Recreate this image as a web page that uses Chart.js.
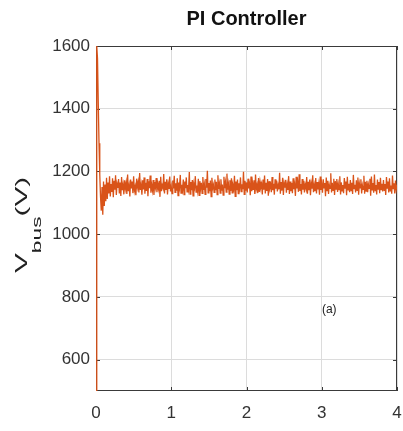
<!DOCTYPE html>
<html><head><meta charset="utf-8">
<script src="https://cdn.jsdelivr.net/npm/chart.js@4/dist/chart.umd.min.js"></script>
<style>html,body{margin:0;padding:0;background:#fff}#wrap{width:403px;height:431px}</style>
</head><body><div id="wrap"><canvas id="c" width="403" height="431"></canvas></div>
<script>
const titleText = "PI Controller";
const yLabelMain = "V", yLabelSub = "bus", yLabelTail = "(V)";
const annotationText = "(a)";
const annotationPos = [3.1, 760];
const dt = 0.01;
const xTicks = [0, 1, 2, 3, 4];
const yTicks = [600, 800, 1000, 1200, 1400, 1600];
const vbus = [
500,1600,1560,1420,1290,1190,1120,1075,1150,1062,1168,1090,1158,1105,1180,1112,1165,1130,1185,1120,
1160,1135,1178,1118,1170,1142,1188,1125,1160,1148,1176,1130,1165,1122,1182,1140,1158,1127,1172,1145,
1163,1128,1190,1137,1155,1120,1174,1146,1168,1131,1185,1139,1152,1124,1177,1150,1166,1133,1195,1141,
1158,1126,1172,1143,1181,1129,1164,1138,1176,1121,1169,1147,1187,1132,1157,1140,1173,1125,1166,1149,
1179,1134,1161,1145,1170,1119,1183,1137,1156,1148,1192,1130,1167,1141,1175,1127,1160,1144,1184,1136,
1153,1129,1171,1146,1186,1133,1162,1139,1178,1123,1165,1150,1189,1131,1158,1142,1174,1126,1168,1147,
1181,1135,1157,1143,1198,1128,1166,1140,1173,1122,1160,1149,1185,1134,1155,1138,1177,1124,1169,1145,
1164,1130,1182,1141,1159,1127,1176,1148,1202,1132,1163,1137,1171,1120,1180,1146,1157,1133,1174,1140,
1167,1126,1188,1144,1161,1131,1175,1139,1158,1125,1183,1147,1166,1134,1193,1142,1160,1128,1172,1138,
1178,1132,1156,1145,1186,1121,1168,1140,1174,1129,1162,1148,1181,1136,1159,1143,1199,1127,1170,1139,
1165,1133,1177,1146,1158,1124,1184,1137,1163,1141,1172,1128,1190,1144,1157,1131,1179,1135,1167,1149,
1160,1127,1174,1142,1187,1130,1164,1138,1176,1123,1169,1147,1158,1134,1182,1140,1161,1126,1175,1145,
1171,1136,1156,1143,1196,1129,1166,1139,1180,1125,1162,1148,1173,1132,1159,1141,1185,1128,1168,1137,
1163,1131,1178,1144,1157,1122,1183,1146,1165,1135,1191,1138,1160,1127,1176,1142,1170,1133,1158,1147,
1182,1129,1167,1140,1174,1124,1161,1145,1188,1134,1156,1137,1179,1130,1166,1143,1160,1126,1184,1141,
1159,1132,1175,1148,1163,1121,1181,1139,1170,1128,1158,1146,1194,1133,1164,1140,1177,1125,1169,1144,
1176,1135,1160,1142,1185,1127,1165,1138,1157,1131,1179,1147,1168,1124,1183,1141,1161,1134,1173,1139,
1164,1128,1189,1145,1158,1133,1172,1140,1181,1126,1162,1148,1175,1130,1156,1143,1186,1129,1167,1137,
1170,1134,1159,1146,1177,1123,1184,1141,1163,1132,1190,1139,1157,1127,1174,1144,1166,1131,1180,1142,
1161,1136,1173,1140,1160,1125,1182,1147,1168,1133,1178,1138,1155,1129,1187,1145,1162,1130,1171,1143,
1158
];

const points = vbus.map((v, i) => ({x: +(i * dt).toFixed(2), y: v}));
const FONT = '"Liberation Sans", Arial, sans-serif';

const framePlugin = {
  id: 'frame',
  beforeDatasetsDraw(chart) {
    const {ctx, chartArea: a, scales} = chart;
    ctx.save();
    ctx.strokeStyle = '#3a3a3a';
    ctx.lineWidth = 1;
    ctx.strokeRect(a.left + 0.5, a.top + 0.5, a.right - a.left - 1, a.bottom - a.top - 1);
    ctx.beginPath();
    xTicks.forEach(t => {
      const px = Math.round(scales.x.getPixelForValue(t)) + 0.5;
      ctx.moveTo(px, a.bottom); ctx.lineTo(px, a.bottom - 4);
      ctx.moveTo(px, a.top); ctx.lineTo(px, a.top + 4);
    });
    yTicks.forEach(t => {
      const py = Math.round(scales.y.getPixelForValue(t)) + 0.5;
      ctx.moveTo(a.left, py); ctx.lineTo(a.left + 4, py);
      ctx.moveTo(a.right, py); ctx.lineTo(a.right - 4, py);
    });
    ctx.stroke();
    ctx.restore();
  },
  afterDraw(chart) {
    const {ctx, chartArea: a, scales} = chart;
    ctx.save();
    ctx.fillStyle = '#111';
    ctx.font = 'bold 20px ' + FONT;
    ctx.textAlign = 'center';
    ctx.textBaseline = 'middle';
    ctx.fillText(titleText, (a.left + a.right) / 2, 19);
    ctx.restore();
    // y label (rotated, stretched along text)
    ctx.save();
    ctx.fillStyle = '#222';
    ctx.translate(27, 273);
    ctx.rotate(-Math.PI / 2);
    ctx.scale(1.75, 1);
    ctx.textAlign = 'left';
    ctx.textBaseline = 'alphabetic';
    ctx.font = '17px ' + FONT;
    const w1 = ctx.measureText(yLabelMain).width;
    ctx.font = '13px ' + FONT;
    const w2 = ctx.measureText(yLabelSub).width;
    ctx.font = '17px ' + FONT;
    ctx.fillText(yLabelMain, 0, 0);
    ctx.font = '13px ' + FONT;
    ctx.fillText(yLabelSub, w1, 14);
    ctx.font = '17px ' + FONT;
    ctx.fillText(yLabelTail, w1 + w2, 0);
    ctx.restore();
    ctx.save();
    ctx.fillStyle = '#222';
    ctx.font = '12px ' + FONT;
    ctx.textAlign = 'center';
    ctx.textBaseline = 'middle';
    ctx.fillText(annotationText, scales.x.getPixelForValue(annotationPos[0]), scales.y.getPixelForValue(annotationPos[1]));
    ctx.restore();
  }
};

new Chart(document.getElementById('c'), {
  type: 'line',
  data: { datasets: [{ data: points, borderColor: '#D95319', borderWidth: 1.3, pointRadius: 0, tension: 0, fill: false }] },
  options: {
    responsive: false, animation: false, events: [],
    layout: { padding: { top: 46, right: 6, left: 0, bottom: 0 } },
    plugins: { legend: { display: false }, tooltip: { enabled: false }, title: { display: false } },
    scales: {
      x: {
        type: 'linear', min: 0, max: 4,
        afterBuildTicks: ax => { ax.ticks = xTicks.map(v => ({value: v})); },
        afterFit: ax => { ax.height = 40; ax.paddingLeft = 0; ax.paddingRight = 0; },
        grid: { color: '#dcdcdc', drawTicks: false, lineWidth: 1 },
        border: { display: false },
        ticks: { color: '#333', font: { family: FONT, size: 17 }, padding: 12, maxRotation: 0, callback: v => String(v) }
      },
      y: {
        type: 'linear', min: 500, max: 1600,
        afterBuildTicks: ax => { ax.ticks = yTicks.map(v => ({value: v})); },
        afterFit: ax => { ax.width = 96; ax.paddingTop = 0; ax.paddingBottom = 0; },
        grid: { color: '#dcdcdc', drawTicks: false, lineWidth: 1 },
        border: { display: false },
        ticks: { color: '#333', font: { family: FONT, size: 17 }, padding: 6, callback: v => String(v) }
      }
    }
  },
  plugins: [framePlugin]
});
</script></body></html>
